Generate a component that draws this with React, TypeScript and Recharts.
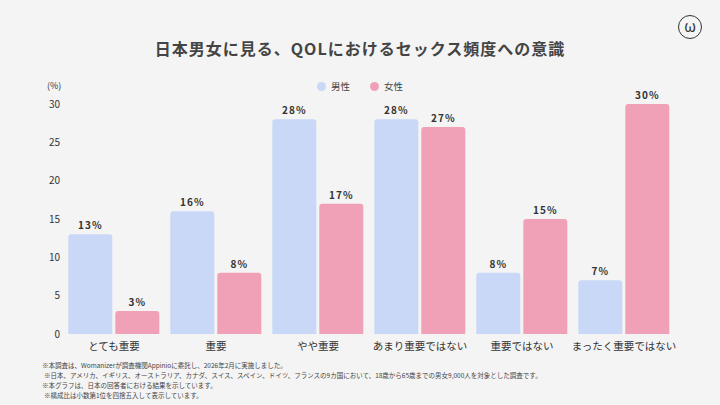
import React from 'react';
import { BarChart, Bar, XAxis, YAxis, LabelList } from 'recharts';

const categories = ['とても重要', '重要', 'やや重要', 'あまり重要ではない', '重要ではない', 'まったく重要ではない'];
const maleValues = [13, 16, 28, 28, 8, 7];
const femaleValues = [3, 8, 17, 27, 15, 30];
const yTicks = [0, 5, 10, 15, 20, 25, 30];

const notes = [
  '※本調査は、Womanizerが調査機関Appinioに委託し、2026年2月に実施しました。',
  '※日本、アメリカ、イギリス、オーストラリア、カナダ、スイス、スペイン、ドイツ、フランスの9カ国において、18歳から65歳までの男女9,000人を対象とした調査です。',
  '※本グラフは、日本の回答者における結果を示しています。',
  '※構成比は小数第1位を四捨五入して表示しています。',
];

const MALE = '#c8d8f6';
const FEMALE = '#f0a1b8';
const FONT = '"Noto Sans CJK JP", "Noto Sans", sans-serif';

const data = categories.map((name, i) => ({
  name,
  male: maleValues[i],
  female: femaleValues[i],
}));

const pct = (v: any) => `${v}%`;

const labelStyle = { fontSize: 10, fontWeight: 700, fill: '#333', letterSpacing: 1, fontFamily: FONT };

export default function App() {
  return (
    <div
      style={{
        position: 'fixed',
        left: 0,
        top: 0,
        width: 720,
        height: 405,
        background: '#f4f4f4',
        fontFamily: FONT,
        color: '#333',
        overflow: 'hidden',
      }}
    >
      <div
        style={{
          position: 'absolute',
          top: 36,
          left: 0,
          width: 720,
          textAlign: 'center',
          fontSize: 16,
          fontWeight: 700,
          letterSpacing: 1,
          color: '#444',
        }}
      >
        日本男女に見る、QOLにおけるセックス頻度への意識
      </div>

      <svg width={28} height={28} style={{ position: 'absolute', left: 676, top: 13 }}>
        <circle cx={14} cy={14} r={11.5} fill="none" stroke="#333" strokeWidth={1} />
        <text x={14} y={19} textAnchor="middle" fontSize={15} fill="#333" fontFamily={FONT}>ω</text>
      </svg>

      <div style={{ position: 'absolute', top: 79, left: 47, fontSize: 9, color: '#333' }}>(%)</div>

      <div
        style={{
          position: 'absolute',
          top: 79,
          left: 0,
          width: 720,
          display: 'flex',
          justifyContent: 'center',
          gap: 20,
          fontSize: 9.5,
          color: '#444',
        }}
      >
        <span style={{ display: 'flex', alignItems: 'center', gap: 5 }}>
          <span style={{ width: 9, height: 9, borderRadius: '50%', background: MALE, display: 'inline-block' }} />
          男性
        </span>
        <span style={{ display: 'flex', alignItems: 'center', gap: 5 }}>
          <span style={{ width: 9, height: 9, borderRadius: '50%', background: FEMALE, display: 'inline-block' }} />
          女性
        </span>
      </div>

      <div style={{ position: 'absolute', left: 0, top: 0 }}>
        <BarChart
          width={720}
          height={352}
          data={data}
          margin={{ top: 104, right: 45, left: 0, bottom: 0 }}
          barCategoryGap="5.2%"
          barGap={3}
        >
          <XAxis
            dataKey="name"
            axisLine={false}
            tickLine={false}
            tickSize={0}
            tickMargin={9}
            height={18}
            interval={0}
            tick={{ fontSize: 10.5, fill: '#333', fontFamily: FONT }}
          />
          <YAxis
            type="number"
            domain={[0, 30]}
            ticks={yTicks}
            axisLine={false}
            tickLine={false}
            tickSize={0}
            tickMargin={3}
            width={63}
            tick={{ fontSize: 10, fill: '#333', fontFamily: FONT }}
          />
          <Bar dataKey="male" fill={MALE} radius={[3, 3, 0, 0]} isAnimationActive={false}>
            <LabelList dataKey="male" position="top" offset={5} formatter={pct} style={labelStyle} />
          </Bar>
          <Bar dataKey="female" fill={FEMALE} radius={[3, 3, 0, 0]} isAnimationActive={false}>
            <LabelList dataKey="female" position="top" offset={5} formatter={pct} style={labelStyle} />
          </Bar>
        </BarChart>
      </div>

      <div
        style={{
          position: 'absolute',
          left: 42,
          top: 360,
          fontSize: 6.5,
          lineHeight: '10px',
          color: '#444',
          whiteSpace: 'nowrap',
        }}
      >
        {notes.map((n, i) => (
          <div key={i} style={{ paddingLeft: i === 0 || i === 2 ? 0 : 2 }}>{n}</div>
        ))}
      </div>
    </div>
  );
}
